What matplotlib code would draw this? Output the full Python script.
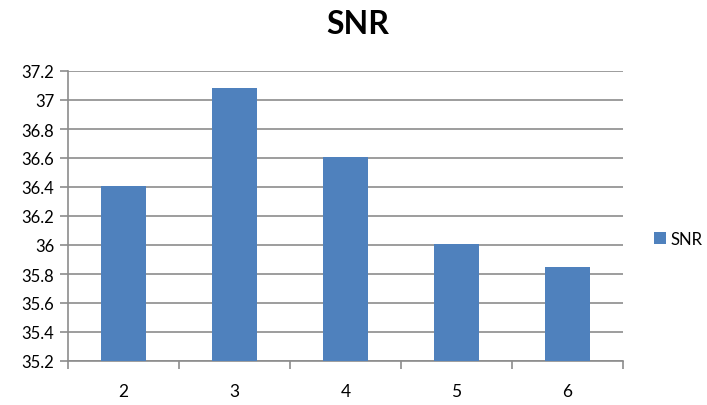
import matplotlib
matplotlib.use('Agg')
import matplotlib.pyplot as plt
import numpy as np

categories = ['2', '3', '4', '5', '6']
snr = [36.41, 37.08, 36.61, 36.01, 35.85]
yticks = [35.2, 35.4, 35.6, 35.8, 36.0, 36.2, 36.4, 36.6, 36.8, 37.0, 37.2]
ytick_labels = ['35.2', '35.4', '35.6', '35.8', '36', '36.2', '36.4', '36.6', '36.8', '37', '37.2']

plt.rcParams['font.family'] = ['Lato', 'DejaVu Sans']

fig = plt.figure(figsize=(7.07, 4.06), dpi=100)
ax = fig.add_axes([68/707, 1-362/406, (623-68)/707, (362-72)/406])

x = np.arange(len(categories))
bars = ax.bar(x, snr, width=0.4, color='#4F81BD', label='SNR', zorder=3)

ax.set_ylim(35.2, 37.2)
ax.set_xlim(-0.5, len(categories) - 0.5)
ax.set_yticks(yticks)
ax.set_yticklabels(ytick_labels, fontsize=12)
ax.yaxis.grid(True, color='#8C8C8C', lw=1.2, zorder=0)

# category labels at centres, tick marks at boundaries
ax.set_xticks(x)
ax.set_xticklabels(categories, fontsize=12.5)
ax.tick_params(axis='x', length=0, pad=16)
ax.set_xticks(np.arange(-0.5, len(categories)), minor=True)
ax.tick_params(axis='x', which='minor', length=6, color='#8C8C8C', width=1.2)
ax.tick_params(axis='y', length=6, color='#8C8C8C', width=1.2, pad=4)

for s in ['top', 'right']:
    ax.spines[s].set_visible(False)
for s in ['left', 'bottom']:
    ax.spines[s].set_color('#8C8C8C')
    ax.spines[s].set_linewidth(1.2)

fig.text(358/707, 1-25/406, 'SNR', fontsize=23, fontweight='bold', ha='center', va='center')

fig.legend(handles=[bars], labels=['SNR'], loc='center left', bbox_to_anchor=(654/707, 1-240/406),
           frameon=False, fontsize=12, handlelength=0.7, handleheight=0.7, handletextpad=0.3,
           borderpad=0, borderaxespad=0)

fig.savefig('out.png', dpi=100)
